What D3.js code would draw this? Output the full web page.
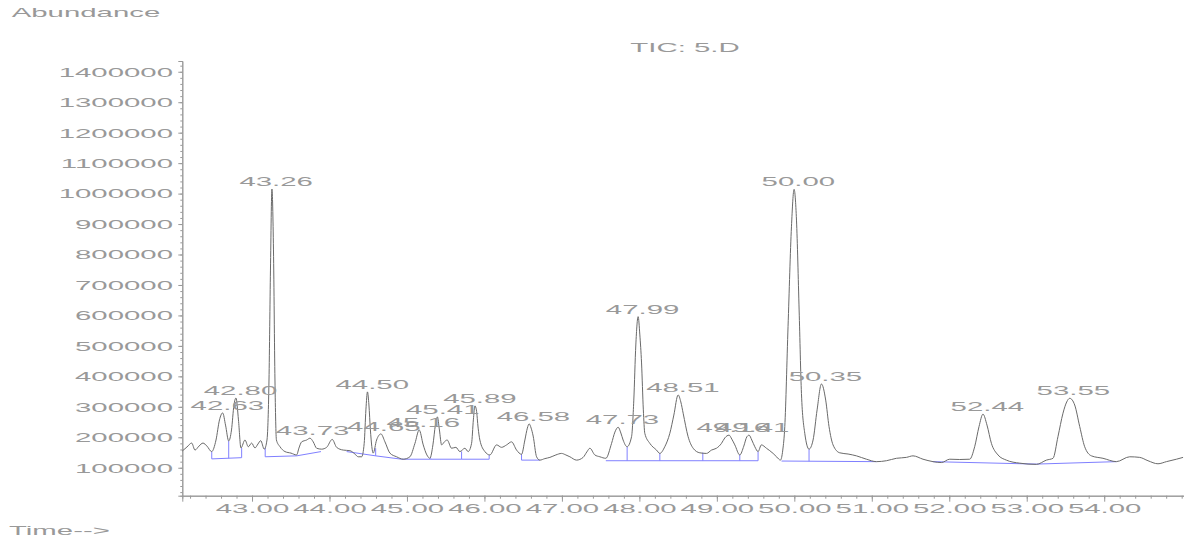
<!DOCTYPE html>
<html>
<head>
<meta charset="utf-8">
<script src="https://cdn.jsdelivr.net/npm/d3@7"></script>
<style>
    body { margin: 0; background: #fff; }
    svg { display: block; }
    text { font-family: "Liberation Sans", Arial, sans-serif; fill: #999; }
</style>
</head>
<body>
<div id="chart"></div>
<script>

// retention time (min) / abundance of the TIC trace
const traceTimes = [
    42.10, 42.16, 42.221, 42.264, 42.315, 42.367, 42.418, 42.479, 42.535, 42.58,
    42.621, 42.658, 42.699, 42.735, 42.767, 42.793, 42.825, 42.857, 42.909, 42.952,
    42.995, 43.038, 43.077, 43.112, 43.158, 43.193, 43.219, 43.238, 43.257, 43.277,
    43.296, 43.315, 43.361, 43.425, 43.503, 43.576, 43.606, 43.641, 43.705, 43.748,
    43.790, 43.834, 43.899, 43.963, 44.035, 44.092, 44.177, 44.264, 44.328, 44.371,
    44.415, 44.448, 44.470, 44.490, 44.509, 44.528, 44.564, 44.608, 44.664, 44.716,
    44.780, 44.866, 44.952, 45.038, 45.103, 45.158, 45.210, 45.257, 45.296, 45.335,
    45.367, 45.393, 45.419, 45.447, 45.483, 45.519, 45.576, 45.632, 45.683, 45.748,
    45.790, 45.834, 45.857, 45.877, 45.896, 45.919, 45.941, 46.006, 46.070, 46.157,
    46.221, 46.286, 46.350, 46.415, 46.479, 46.522, 46.554, 46.577, 46.603, 46.629,
    46.673, 46.715, 46.780, 46.845, 46.922, 46.995, 47.051, 47.103, 47.189, 47.274,
    47.322, 47.361, 47.425, 47.490, 47.567, 47.641, 47.684, 47.726, 47.761, 47.790,
    47.842, 47.899, 47.928, 47.954, 47.984, 48.006, 48.028, 48.051, 48.070, 48.135,
    48.221, 48.264, 48.328, 48.393, 48.445, 48.500, 48.535, 48.565, 48.629, 48.694,
    48.780, 48.866, 48.931, 48.995, 49.060, 49.103, 49.158, 49.193, 49.232, 49.296,
    49.348, 49.386, 49.416, 49.451, 49.490, 49.532, 49.575, 49.640, 49.726, 49.774,
    49.821, 49.851, 49.877, 49.919, 49.963, 49.997, 50.028, 50.062, 50.092, 50.135,
    50.190, 50.242, 50.294, 50.350, 50.405, 50.448, 50.500, 50.586, 50.694, 50.802,
    50.931, 51.060, 51.189, 51.318, 51.447, 51.532, 51.661, 51.790, 51.899, 52.006,
    52.135, 52.264, 52.328, 52.384, 52.435, 52.487, 52.544, 52.629, 52.737, 52.909,
    53.125, 53.254, 53.339, 53.403, 53.468, 53.516, 53.555, 53.619, 53.684, 53.748,
    53.835, 53.984, 54.157, 54.329, 54.458, 54.565, 54.694, 54.803, 54.932, 55.018
];
const traceAbundance = [
    155000, 168000, 181000, 158000, 171000, 181000, 171000, 153000, 191000, 257000,
    280000, 240000, 188000, 224000, 306000, 329000, 257000, 165000, 191000, 169000,
    181000, 165000, 178000, 189000, 161000, 191000, 388000, 749000, 1015000, 815000,
    388000, 191000, 169000, 153000, 148000, 142000, 165000, 185000, 191000, 197000,
    185000, 164000, 161000, 167000, 193000, 167000, 158000, 156000, 145000, 136000,
    136000, 180000, 290000, 349000, 306000, 224000, 148000, 191000, 211000, 185000,
    148000, 136000, 128000, 136000, 180000, 224000, 175000, 142000, 131000, 175000,
    240000, 267000, 224000, 175000, 185000, 191000, 164000, 167000, 153000, 164000,
    153000, 180000, 257000, 303000, 290000, 230000, 191000, 153000, 142000, 175000,
    167000, 175000, 185000, 158000, 144000, 191000, 230000, 244000, 230000, 204000,
    136000, 125000, 130000, 134000, 142000, 147000, 142000, 136000, 125000, 134000,
    152000, 164000, 142000, 136000, 131000, 180000, 217000, 233000, 214000, 191000,
    169000, 202000, 322000, 503000, 596000, 536000, 444000, 290000, 213000, 180000,
    158000, 147000, 169000, 213000, 273000, 339000, 316000, 279000, 202000, 164000,
    149000, 147000, 158000, 164000, 180000, 198000, 207000, 194000, 175000, 142000,
    171000, 201000, 207000, 191000, 169000, 153000, 175000, 164000, 147000, 135000,
    125000, 158000, 235000, 563000, 891000, 1014000, 913000, 618000, 344000, 213000,
    161000, 191000, 290000, 375000, 322000, 235000, 175000, 149000, 145000, 139000,
    128000, 120000, 123000, 131000, 134000, 139000, 128000, 120000, 117000, 128000,
    127000, 128000, 169000, 235000, 276000, 240000, 180000, 142000, 125000, 115000,
    111000, 125000, 131000, 202000, 279000, 316000, 328000, 306000, 235000, 169000,
    139000, 131000, 120000, 136000, 134000, 123000, 113000, 120000, 128000, 134000
];

// integrated peaks: label, apex abundance
const peakLabels = ["42.63", "42.80", "43.26", "43.73", "44.50", "44.65", "45.16", "45.41", "45.89", "46.58",
                    "47.73", "47.99", "48.51", "49.16", "49.41", "50.00", "50.35", "52.44", "53.55"];
const peakHeights = [280000, 329000, 1015000, 197000, 349000, 211000, 224000, 267000, 303000, 244000,
                     233000, 596000, 339000, 207000, 207000, 1014000, 375000, 276000, 328000];

// integration baselines: start time, start abundance, end time, end abundance
const baseStartTimes = [42.48, 43.17, 43.576, 44.221, 44.596, 44.931, 45.306, 45.705, 46.479, 47.567, 49.835, 51.787, 53.125];
const baseStartValues = [129000, 136000, 139000, 153000, 139000, 128000, 128000, 128000, 125000, 123000, 122000, 120000, 112000];
const baseEndTimes = [42.866, 43.576, 43.89, 44.596, 44.931, 45.306, 45.705, 46.061, 46.715, 49.532, 51.06, 53.125, 54.157];
const baseEndValues = [133000, 139000, 153000, 139000, 128000, 128000, 128000, 128000, 125000, 123000, 120000, 112000, 120000];

// peak split drop lines
const dropTimes = [42.48, 42.699, 42.866, 43.17, 44.596, 45.306, 45.705, 46.061, 46.479, 47.842, 48.264, 48.819, 49.296, 49.532, 50.19];
const dropTops = [153000, 188000, 165000, 165000, 164000, 131000, 153000, 142000, 144000, 169000, 147000, 150000, 142000, 153000, 161000];
const dropBottoms = [129000, 131000, 133000, 136000, 139000, 128000, 128000, 128000, 125000, 123000, 123000, 123000, 123000, 123000, 121000];

const yTickValues = [100000, 200000, 300000, 400000, 500000, 600000, 700000,
                     800000, 900000, 1000000, 1100000, 1200000, 1300000, 1400000];
const xTickValues = [43, 44, 45, 46, 47, 48, 49, 50, 51, 52, 53, 54];

const W = 1184, H = 544;
const stretch = 2.35;     // the whole picture is squeezed wide
const fontSize = 12.5;

const svg = d3.select("#chart").append("svg")
    .attr("width", W)
    .attr("height", H);

svg.append("rect").attr("width", W).attr("height", H).attr("fill", "#fff");

const x = d3.scaleLinear().domain([42.1, 55.03]).range([182.3, 1184]);
const y = d3.scaleLinear().domain([8200, 1435300]).range([495.7, 61]);

// helper for stretched text
function stretchedText(g, str, px, py, anchor) {
    return g.append("text")
        .attr("transform", `translate(${px},${py}) scale(${stretch},1)`)
        .attr("text-anchor", anchor)
        .style("font-size", fontSize + "px")
        .text(str);
}

// axes
const yAxis = d3.axisLeft(y).tickValues(yTickValues).tickSize(4).tickFormat(d3.format("d"));
const yMinor = d3.axisLeft(y).tickValues(d3.range(20000, 1435300, 20000)).tickSize(2).tickFormat("");
const xAxis = d3.axisBottom(x).tickValues(xTickValues).tickSize(6).tickFormat(d3.format(".2f"));
const xMinor = d3.axisBottom(x).tickValues(d3.range(42.2, 55.01, 0.2)).tickSize(3).tickFormat("");

const gyMinor = svg.append("g").attr("transform", `translate(${x.range()[0]},0)`).call(yMinor);
const gy = svg.append("g").attr("transform", `translate(${x.range()[0]},0)`).call(yAxis);
const gxMinor = svg.append("g").attr("transform", `translate(0,${y.range()[0]})`).call(xMinor);
const gx = svg.append("g").attr("transform", `translate(0,${y.range()[0]})`).call(xAxis);

[gy, gyMinor, gx, gxMinor].forEach(g => {
    g.select(".domain").attr("stroke", "#999");
    g.selectAll(".tick line").attr("stroke", "#999");
});

gy.selectAll(".tick text")
    .attr("x", -9.3 / stretch)
    .attr("dy", "0.35em")
    .attr("transform", `scale(${stretch},1)`)
    .style("font-size", fontSize + "px")
    .style("font-family", null)
    .attr("fill", "#999");

gx.selectAll(".tick text")
    .attr("y", 17.3)
    .attr("dy", null)
    .attr("transform", `scale(${stretch},1)`)
    .style("font-size", fontSize + "px")
    .attr("fill", "#999");
gx.attr("font-family", null);
gy.attr("font-family", null);

// baselines (blue)
const baseG = svg.append("g").attr("stroke", "#8080ff").attr("stroke-width", 1);
baseStartTimes.forEach((t, i) => {
    baseG.append("line")
        .attr("x1", x(t)).attr("y1", y(baseStartValues[i]))
        .attr("x2", x(baseEndTimes[i])).attr("y2", y(baseEndValues[i]));
});
dropTimes.forEach((t, i) => {
    baseG.append("line")
        .attr("x1", x(t)).attr("y1", y(dropTops[i]))
        .attr("x2", x(t)).attr("y2", y(dropBottoms[i]));
});

// trace
const line = d3.line()
    .x((d, i) => x(traceTimes[i]))
    .y(d => y(d))
    .curve(d3.curveMonotoneX);

svg.append("path")
    .datum(traceAbundance)
    .attr("fill", "none")
    .attr("stroke", "#6a6a6a")
    .attr("stroke-width", 1)
    .attr("d", line);

// peak labels
const labelG = svg.append("g");
peakLabels.forEach((lab, i) => {
    stretchedText(labelG, lab, x(+lab) + 4, y(peakHeights[i]) - 3, "middle");
});

// titles
stretchedText(svg, "TIC: 5.D", 685, 52, "middle");
stretchedText(svg, "Abundance", 11.7, 17, "start");
stretchedText(svg, "Time-->", 9, 535, "start");

</script>
</body>
</html>
